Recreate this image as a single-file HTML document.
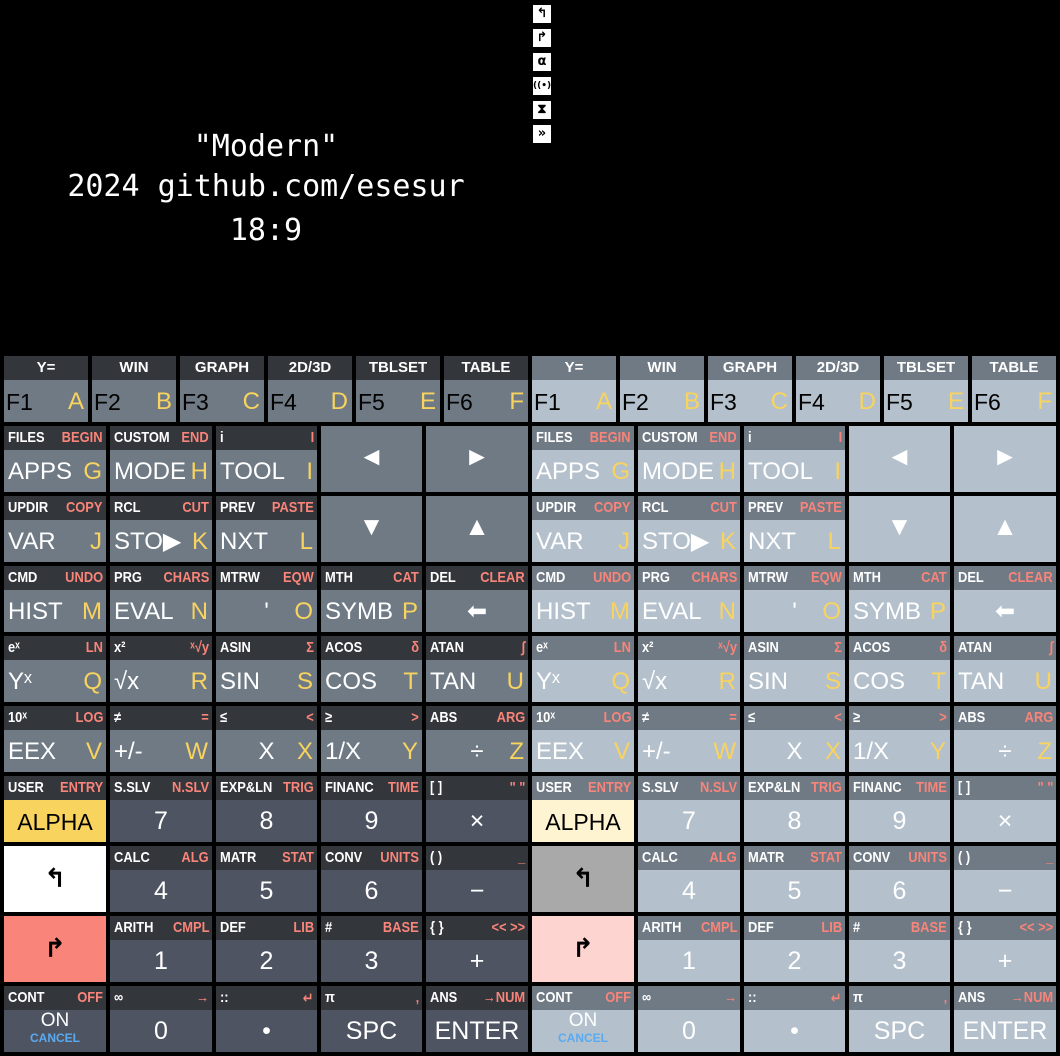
<!DOCTYPE html>
<html><head><meta charset="utf-8"><style>
body{margin:0;background:#000;width:1060px;height:1056px;overflow:hidden;position:relative;font-family:"Liberation Sans","DejaVu Sans",sans-serif}
.t{position:absolute;left:0;width:532px;text-align:center;color:#fff;font:30px "DejaVu Sans Mono","Liberation Mono",monospace}
.ic{position:absolute;left:533px;width:18px;height:18px;background:#fff;color:#000;font:bold 13px "DejaVu Sans",sans-serif;text-align:center;line-height:18px}
.k{position:absolute;overflow:hidden}
.b{position:absolute;left:0;right:0;top:0;height:24px}
.bl{position:absolute;left:4px;top:3px;font-size:15px;font-weight:bold;color:#fff;white-space:nowrap;transform:scaleX(.86);transform-origin:left}
.br{position:absolute;right:3px;top:3px;font-size:15px;font-weight:bold;color:#f98479;white-space:nowrap;transform:scaleX(.86);transform-origin:right}
.m{position:absolute;left:4px;bottom:6px;font-size:24px;color:#fff;white-space:nowrap}
.c{left:0;right:0;text-align:center}
.l{position:absolute;right:4px;bottom:6px;font-size:24px;color:#f8d35e}
</style></head><body>
<div class="t" style="top:129px">"Modern"</div>
<div class="t" style="top:169px">2024 github.com/esesur</div>
<div class="t" style="top:213px">18:9</div>
<div class="ic" style="top:5px">↰</div>
<div class="ic" style="top:29px">↱</div>
<div class="ic" style="top:53px">α</div>
<div class="ic" style="top:77px;font-size:9px">((•))</div>
<div class="ic" style="top:101px">⧗</div>
<div class="ic" style="top:125px">»</div>
<div id="kb"></div>
<script>
const fkeys=[["Y=","F1","A"],["WIN","F2","B"],["GRAPH","F3","C"],["2D/3D","F4","D"],["TBLSET","F5","E"],["TABLE","F6","F"]];
const rows=[
[["FILES","BEGIN","APPS","G"],["CUSTOM","END","MODE","H"],["i","I","TOOL","I"],["#A","◄"],["#A","►"]],
[["UPDIR","COPY","VAR","J"],["RCL","CUT","STO▶","K"],["PREV","PASTE","NXT","L"],["#A","▼"],["#A","▲"]],
[["CMD","UNDO","HIST","M"],["PRG","CHARS","EVAL","N"],["MTRW","EQW","'","O","c"],["MTH","CAT","SYMB","P"],["DEL","CLEAR","⬅","","c"]],
[["eˣ","LN","Yˣ","Q"],["x²","ˣ√y","√x","R"],["ASIN","Σ","SIN","S"],["ACOS","δ","COS","T"],["ATAN","∫","TAN","U"]],
[["10ˣ","LOG","EEX","V"],["≠","=","+/-","W"],["≤","<","X","X","c"],["≥",">","1/X","Y"],["ABS","ARG","÷","Z","c"]],
[["USER","ENTRY","ALPHA","","alpha"],["S.SLV","N.SLV","7","","n"],["EXP&LN","TRIG","8","","n"],["FINANC","TIME","9","","n"],["[ ]","\" \"","×","","n"]],
[["#L","↰"],["CALC","ALG","4","","n"],["MATR","STAT","5","","n"],["CONV","UNITS","6","","n"],["( )","_","−","","n"]],
[["#R","↱"],["ARITH","CMPL","1","","n"],["DEF","LIB","2","","n"],["#","BASE","3","","n"],["{ }","<< >>","+","","n"]],
[["CONT","OFF","ON","","on"],["∞","→","0","","n"],["::","↵","•","","n"],["π","‚","SPC","","n"],["ANS","→NUM","ENTER","","n"]]];
const kb=document.getElementById('kb');
function mk(cls,x,y,w,h,bg){const d=document.createElement('div');d.className=cls;d.style.cssText=`left:${x}px;top:${y}px;width:${w}px;height:${h}px;background:${bg}`;return d;}
[0,528].forEach((ox,half)=>{
  const band=half?'#6f7a85':'#33363b', fb=half?'#b4c1cc':'#6f7a85', nb=half?'#b4c1cc':'#4f5462';
  fkeys.forEach((f,i)=>{
    const k=mk('k',ox+4+i*88,356,84,66,fb);
    
    
    k.innerHTML=`<div class="b" style="background:${band};height:24px"><div class="bl c" style="left:0;right:0;text-align:center;transform:none">${f[0]}</div></div><div class="m" style="color:#000;left:2px;font-size:23px">${f[1]}</div><div class="l">${f[2]}</div>`;
    kb.appendChild(k);
  });
  const cx=[4,110,216,321,426],cw=[102,102,101,101,102];
  rows.forEach((r,ri)=>{
    const y=426+ri*70;
    r.forEach((d,ci)=>{
      const x=ox+cx[ci];let k;
      if(d[0]=="#A"){k=mk('k',x,y,cw[ci],66,fb);k.innerHTML=`<div class="m c" style="bottom:20px;font-size:26px">${d[1]}</div>`;}
      else if(d[0]=="#L"||d[0]=="#R"){const bg=d[0]=="#L"?(half?'#a9a9a9':'#fff'):(half?'#fdd4cf':'#f98479');k=mk('k',x,y,cw[ci],66,bg);k.innerHTML=`<div class="m c" style="color:#000;bottom:18px;font-size:26px;font-weight:bold">${d[1]}</div>`;}
      else{
        const typ=d[4]||'';const body=typ=='alpha'?(half?'#fff4d2':'#f8d35e'):(typ=='n'||typ=='on'?nb:fb);
        k=mk('k',x,y,cw[ci],66,body);
        let main;
        if(typ=='on')main=`<div class="m c" style="bottom:20px;font-size:19px">ON</div><div class="m c" style="bottom:7px;font-size:12px;font-weight:bold;color:#5aaaf0">CANCEL</div>`;
        else if(typ=='alpha')main=`<div class="m c" style="color:#000;font-size:23px">ALPHA</div>`;
        else main=`<div class="m${typ=='n'||typ=='c'?' c':''}"${typ=='n'?' style="font-size:25px"':''}>${d[2]}</div>`;
        k.innerHTML=`<div class="b" style="background:${band}"><div class="bl">${d[0]}</div><div class="br">${d[1]}</div></div>${main}${d[3]?`<div class="l">${d[3]}</div>`:''}`;
      }
      
      
      kb.appendChild(k);
    });
  });
});
</script>
</body></html>
